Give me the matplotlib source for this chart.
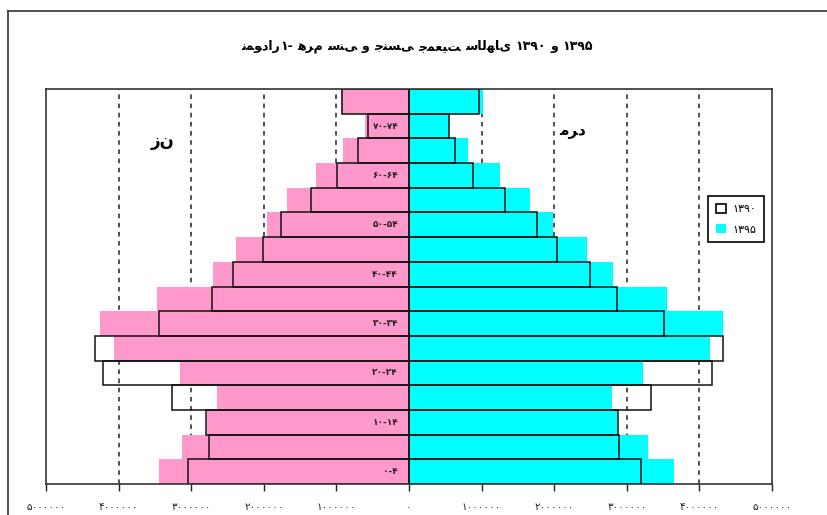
import numpy as np
import matplotlib
matplotlib.use('Agg')
import matplotlib.pyplot as plt
from matplotlib.patches import Patch
from matplotlib.lines import Line2D
from matplotlib.offsetbox import TextArea, HPacker, AnchoredOffsetbox

# age groups, bottom to top
ages = ['۰-۴', '۵-۹', '۱۰-۱۴', '۱۵-۱۹', '۲۰-۲۴', '۲۵-۲۹', '۳۰-۳۴', '۳۵-۳۹',
        '۴۰-۴۴', '۴۵-۴۹', '۵۰-۵۴', '۵۵-۵۹', '۶۰-۶۴', '۶۵-۶۹', '۷۰-۷۴', '۷۵+']

female_1390 = [3040000, 2750000, 2790000, 3260000, 4210000, 4320000, 3450000, 2720000,
               2430000, 2010000, 1760000, 1350000, 990000, 700000, 560000, 920000]
female_1395 = [3450000, 3120000, 2780000, 2650000, 3160000, 4060000, 4260000, 3470000,
               2700000, 2380000, 1950000, 1680000, 1280000, 910000, 600000, 935000]
male_1390 = [3190000, 2890000, 2880000, 3340000, 4180000, 4330000, 3510000, 2860000,
             2490000, 2040000, 1760000, 1320000, 880000, 630000, 550000, 960000]
male_1395 = [3650000, 3290000, 2860000, 2790000, 3230000, 4140000, 4320000, 3560000,
             2810000, 2450000, 1980000, 1660000, 1250000, 810000, 540000, 1020000]

xticks = [-5000000, -4000000, -3000000, -2000000, -1000000, 0,
          1000000, 2000000, 3000000, 4000000, 5000000]
xtick_labels = ['۵۰۰۰۰۰۰', '۴۰۰۰۰۰۰', '۳۰۰۰۰۰۰', '۲۰۰۰۰۰۰', '۱۰۰۰۰۰۰', '۰',
                '۱۰۰۰۰۰۰', '۲۰۰۰۰۰۰', '۳۰۰۰۰۰۰', '۴۰۰۰۰۰۰', '۵۰۰۰۰۰۰']
years = ['۱۳۹۰', '۱۳۹۵']
# title words, in the left-to-right order they appear in the chart
title_words = ['نمودار', '۱-', 'هرم', 'سنی', 'و', 'جنسی', 'جمعیت', 'سالهای', '۱۳۹۰', 'و', '۱۳۹۵']

# joining forms (iso, fin, ini, med); the renderer reorders but does not join letters
FORMS = {
    'ا': ('\uFE8D', '\uFE8E', None, None),
    'ت': ('\uFE95', '\uFE96', '\uFE97', '\uFE98'),
    'ج': ('\uFE9D', '\uFE9E', '\uFE9F', '\uFEA0'),
    'د': ('\uFEA9', '\uFEAA', None, None),
    'ر': ('\uFEAD', '\uFEAE', None, None),
    'ز': ('\uFEAF', '\uFEB0', None, None),
    'س': ('\uFEB1', '\uFEB2', '\uFEB3', '\uFEB4'),
    'ع': ('\uFEC9', '\uFECA', '\uFECB', '\uFECC'),
    'ل': ('\uFEDD', '\uFEDE', '\uFEDF', '\uFEE0'),
    'م': ('\uFEE1', '\uFEE2', '\uFEE3', '\uFEE4'),
    'ن': ('\uFEE5', '\uFEE6', '\uFEE7', '\uFEE8'),
    'ه': ('\uFEE9', '\uFEEA', '\uFEEB', '\uFEEC'),
    'و': ('\uFEED', '\uFEEE', None, None),
    'ی': ('\uFEEF', '\uFEF0', '\uFEF3', '\uFEF4'),
}


def shape(word):
    out = []
    for i, ch in enumerate(word):
        f = FORMS.get(ch)
        if f is None:
            out.append(ch)
            continue
        prev = word[i - 1] if i > 0 else ''
        nxt = word[i + 1] if i + 1 < len(word) else ''
        jp = prev in FORMS and FORMS[prev][2] is not None
        jn = nxt in FORMS and f[2] is not None
        if jp and jn:
            out.append(f[3])
        elif jp:
            out.append(f[1])
        elif jn:
            out.append(f[2])
        else:
            out.append(f[0])
    return ''.join(out)


plt.rcParams['font.family'] = ['DejaVu Sans']

fig = plt.figure(figsize=(8.27, 5.15), dpi=100)
ax = fig.add_axes([46 / 827, 31 / 515, 726 / 827, 395 / 515])

y = np.arange(len(ages))
pink = '#FF99CC'
cyan = '#00FFFF'

for gx in [-4000000, -3000000, -2000000, -1000000, 1000000, 2000000, 3000000, 4000000]:
    ax.axvline(gx, color='#222222', lw=1.1, ls=(0, (3, 3)), zorder=0)

ax.barh(y, -np.array(female_1395), height=1.0, color=pink, lw=0, zorder=1)
ax.barh(y, male_1395, height=1.0, color=cyan, lw=0, zorder=1)
ax.barh(y, -np.array(female_1390), height=1.0, facecolor='none', edgecolor='#111111', lw=1.1, zorder=2)
ax.barh(y, male_1390, height=1.0, facecolor='none', edgecolor='#111111', lw=1.1, zorder=2)

ax.set_xlim(-5000000, 5000000)
ax.set_ylim(-0.5, len(ages) - 0.5)
ax.set_xticks(xticks)
ax.set_xticklabels(xtick_labels, fontsize=7.5)
ax.tick_params(axis='x', direction='out', length=5, width=1, pad=8, colors='#222222')
ax.set_yticks([])
for s in ax.spines.values():
    s.set_color('#333333')
    s.set_linewidth(1.2)

for i in range(0, len(ages) - 1, 2):
    ax.text(-150000, i, ages[i], ha='right', va='center', fontsize=6.5, fontweight='bold',
            color='#222222', zorder=3)

ax.text(-3400000, 13.4, shape('زن'), ha='center', va='center', fontsize=12, fontweight='bold')
ax.text(2250000, 13.8, shape('مرد'), ha='center', va='center', fontsize=11, fontweight='bold')

# title: words packed left to right as in the chart
tprops = dict(fontsize=9, fontweight='bold')
head = HPacker(children=[TextArea(shape(title_words[0]), textprops=tprops),
                         TextArea(title_words[1], textprops=tprops)],
               align='baseline', pad=0, sep=0)
rest = [TextArea(shape(w), textprops=tprops) for w in title_words[2:]]
title_box = HPacker(children=[head] + rest, align='baseline', pad=0, sep=3.2)
ab = AnchoredOffsetbox(loc='center', child=title_box, pad=0, borderpad=0, frameon=False,
                       bbox_to_anchor=(417 / 827, 1 - 47 / 515), bbox_transform=fig.transFigure)
ax.add_artist(ab)

handles = [Patch(facecolor='white', edgecolor='black', lw=1.2),
           Patch(facecolor=cyan, edgecolor='none')]
leg = ax.legend(handles, years, loc='upper left', bbox_to_anchor=(708 / 827, 1 - 196 / 515),
                bbox_transform=fig.transFigure, borderaxespad=0, fontsize=8, fancybox=False,
                framealpha=1, edgecolor='black', handlelength=0.9, handleheight=0.9,
                handletextpad=0.6, labelspacing=0.9, borderpad=0.7)
leg.get_frame().set_linewidth(1.2)

# outer chart border (only top and left visible)
fig.add_artist(Line2D([8 / 827, 8 / 827], [0, 1 - 11 / 515], color='#333333', lw=1.2,
                      transform=fig.transFigure))
fig.add_artist(Line2D([8 / 827, 1], [1 - 11 / 515, 1 - 11 / 515], color='#333333', lw=1.2,
                      transform=fig.transFigure))

plt.savefig('out.png', dpi=100)
